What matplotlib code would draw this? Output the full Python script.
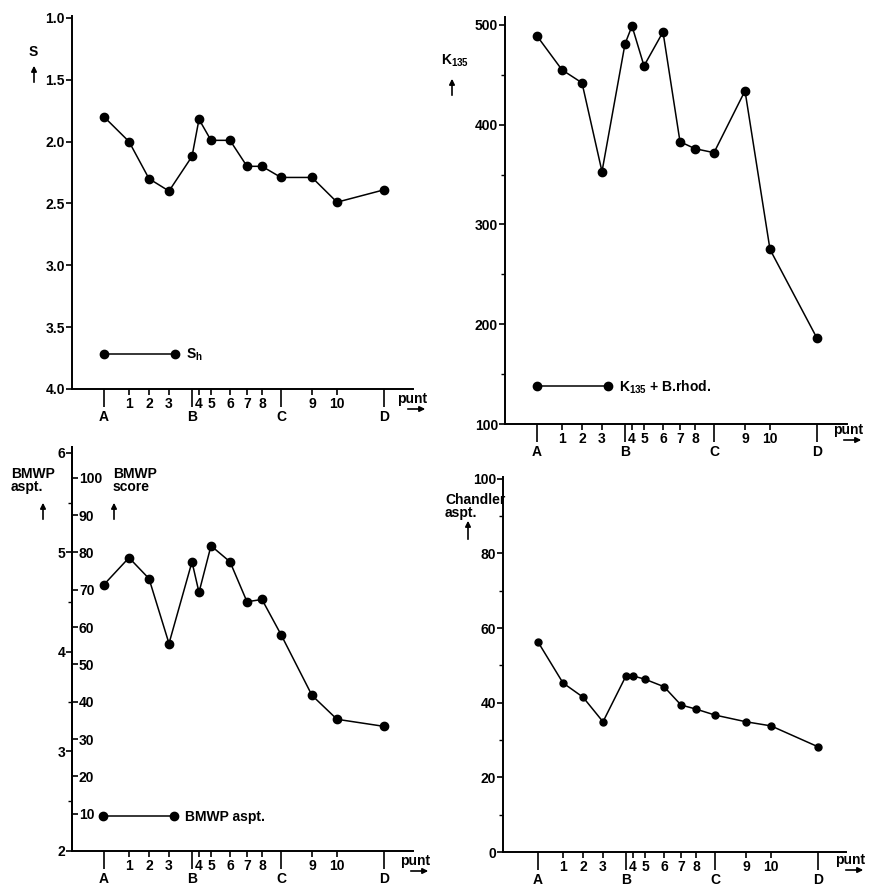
import matplotlib
matplotlib.use('Agg')
import matplotlib.pyplot as plt
from matplotlib.ticker import MultipleLocator

plt.rcParams['font.family'] = ['Liberation Sans', 'DejaVu Sans']
plt.rcParams['font.weight'] = 'bold'
plt.rcParams['font.size'] = 10
plt.rcParams['mathtext.fontset'] = 'custom'
plt.rcParams['mathtext.rm'] = 'Liberation Sans:bold'
plt.rcParams['mathtext.default'] = 'rm'

W, H = 878, 885

#%% data

# meetpunten langs de beek (A..D hoofdpunten, 1..10 tussenpunten)
punten = ['A', '1', '2', '3', 'B', '4', '5', '6', '7', '8', 'C', '9', '10', 'D']
afstand = [0, 25, 45, 65, 88, 95, 107, 126, 143, 158, 177, 208, 233, 280]

saprobie = [1.80, 2.00, 2.30, 2.40, 2.12, 1.82, 1.99, 1.99, 2.20, 2.20, 2.29, 2.29, 2.49, 2.39]
k135 = [489, 455, 442, 353, 481, 499, 459, 493, 383, 376, 372, 434, 275, 186]
bmwp_score = [71.4, 78.6, 73.0, 55.6, 77.5, 69.3, 81.8, 77.5, 66.8, 67.4, 58.0, 41.7, 35.3, 33.4]
chandler = [56.3, 45.3, 41.5, 34.9, 47.2, 47.2, 46.3, 44.3, 39.4, 38.3, 36.7, 34.9, 33.8, 28.2]

letters = ['A', 'B', 'C', 'D']

#%% helpers

def maakAs(fig, left, top, right, bottom, xlim):
    ax = fig.add_axes([left / W, 1 - bottom / H, (right - left) / W, (bottom - top) / H])
    ax.spines[['top', 'right']].set_visible(False)
    ax.spines[['left', 'bottom']].set_linewidth(1.4)
    ax.set_xlim(*xlim)
    hoofd = [afstand[i] for i in range(len(punten)) if punten[i] in letters]
    hoofdlab = [p for p in punten if p in letters]
    tussen = [afstand[i] for i in range(len(punten)) if punten[i] not in letters]
    tussenlab = [p for p in punten if p not in letters]
    ax.set_xticks(hoofd, hoofdlab)
    ax.set_xticks(tussen, tussenlab, minor=True)
    ax.tick_params(axis='x', which='major', length=13, width=1.2, pad=2)
    ax.tick_params(axis='x', which='minor', length=4, width=1.2, pad=2)
    ax.tick_params(axis='y', which='major', length=4, width=1.2, pad=1)
    ax.tick_params(axis='y', which='minor', length=3, width=1.0)
    return ax

def pijl(fig, x0, y0, x1, y1):
    fig.add_artist(matplotlib.patches.FancyArrowPatch(
        (x0 / W, 1 - y0 / H), (x1 / W, 1 - y1 / H), transform=fig.transFigure,
        arrowstyle='-|>', mutation_scale=8, lw=1.2, color='k'))

def tekst(fig, x, y, s, **kw):
    fig.text(x / W, 1 - y / H, s, **kw)

def punt(fig, x, y):
    tekst(fig, x, y, 'punt', ha='left', va='center')
    pijl(fig, x + 8, y + 10, x + 31, y + 10)

def legenda(ax, label, bx, by):
    ax.legend([ax.lines[0]], [label], loc='center left', bbox_to_anchor=(bx, by),
              frameon=False, numpoints=2, handlelength=5.7, handletextpad=0.5,
              borderpad=0, borderaxespad=0)

lijn = dict(color='k', lw=1.1, marker='o', ms=6)

fig = plt.figure(figsize=(W / 100, H / 100), dpi=100)

#%% S (saprobie-index)
ax1 = maakAs(fig, 72, 16, 413, 389, (-32, 309))
ax1.plot(afstand, saprobie, label='S', **lijn)
ax1.set_ylim(4.0, 0.985)
ax1.set_yticks([1.0, 1.5, 2.0, 2.5, 3.0, 3.5, 4.0])
ax1.yaxis.set_major_formatter(matplotlib.ticker.FormatStrFormatter('%.1f'))
legenda(ax1, 'S$_{h}$', 0.0815, 0.091)
tekst(fig, 33, 52, 'S', ha='center', va='center')
pijl(fig, 34, 85, 34, 63)
punt(fig, 397, 399)

#%% K135
ax2 = maakAs(fig, 505, 17, 847, 424, (-32, 310))
ax2.plot(afstand, k135, **lijn)
ax2.set_ylim(100, 508)
ax2.set_yticks([100, 200, 300, 400, 500])
ax2.yaxis.set_minor_locator(MultipleLocator(50))
legenda(ax2, 'K$_{135}$ + B.rhod.', 0.081, 0.091)
tekst(fig, 441, 61, 'K$_{135}$', ha='left', va='center')
pijl(fig, 452, 98, 452, 76)
punt(fig, 833, 430)

#%% BMWP
ax3 = maakAs(fig, 72, 447, 413, 851, (-32, 309))
ax3.set_ylim(2, 6.06)
ax3.set_yticks([2, 3, 4, 5, 6])
ax3.yaxis.set_minor_locator(MultipleLocator(0.5))
ax3b = ax3.twinx()
ax3b.spines['right'].set_position(('axes', 0))
ax3b.spines[['top', 'left', 'bottom']].set_visible(False)
ax3b.spines['right'].set_linewidth(1.4)
ax3b.set_ylim(0, (6.06 - 2) * 80 / 3)
ax3b.set_yticks(range(10, 101, 10))
ax3b.tick_params(axis='y', length=4, width=1.2, pad=1)
ax3b.plot(afstand, bmwp_score, **lijn)
legenda(ax3b, 'BMWP aspt.', 0.079, 0.084)
tekst(fig, 11, 467, 'BMWP\naspt.', ha='left', va='top', linespacing=0.95)
pijl(fig, 43, 522, 43, 500)
tekst(fig, 113, 467, 'BMWP\nscore', ha='left', va='top', linespacing=0.95)
pijl(fig, 114, 522, 114, 500)
punt(fig, 400, 861)

#%% Chandler
ax4 = maakAs(fig, 503, 477, 846, 852, (-35, 308))
ax4.plot(afstand, chandler, color='k', lw=1.1, marker='o', ms=5)
ax4.set_ylim(0, 100.5)
ax4.set_yticks([0, 20, 40, 60, 80, 100])
ax4.yaxis.set_minor_locator(MultipleLocator(10))
tekst(fig, 445, 493, 'Chandler\naspt.', ha='left', va='top', linespacing=0.95)
pijl(fig, 468, 542, 468, 518)
punt(fig, 835, 860)

fig.savefig('out.png', dpi=100)
